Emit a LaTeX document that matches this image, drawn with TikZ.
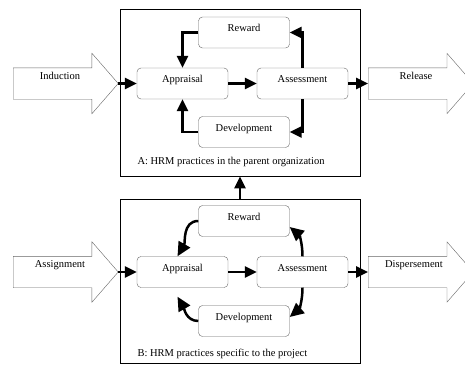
\documentclass[tikz,border=0pt]{standalone}
\usepackage{fontspec}
\setmainfont{Liberation Serif}
\usetikzlibrary{shapes.arrows,arrows.meta}

\begin{document}
\begin{tikzpicture}[x=1pt, y=1pt,
  every node/.style={font=\fontsize{10.5}{12}\selectfont},
  box/.style={draw=black!60, rounded corners=4pt, fill=white, minimum width=91pt, minimum height=31pt, inner sep=0pt, text height=7pt, text depth=9pt},
  frame/.style={draw, line width=0.8pt, minimum width=240pt, inner sep=0pt},
  bigarrow/.style={single arrow, draw=black!60, single arrow head extend=14.5pt, single arrow tip angle=98, minimum height=105pt, inner xsep=0pt, inner ysep=15.5pt, anchor=tail},
  conn/.style={line width=2.5pt, -{Triangle[length=12pt,width=11pt]}},
  bigtip/.style={-{Triangle[length=14pt,width=13pt]}}
]
\useasboundingbox (0,0) rectangle (465,365);
\clip (0,0) rectangle (465,365);

% A: parent organization
\node[frame, minimum height=167pt] (frameA) at (240,272.5) {};
\node[box] (rewA) at (244,332.5) {Reward};
\node[box] (apprA) at (182.5,281.5) {Appraisal};
\node[box] (assA) at (302.5,281.5) {Assessment};
\node[box] (devA) at (244,233) {Development};
\node[anchor=west] (capA) at (134,203) {A: HRM practices in the parent organization};

\node[bigarrow] (induct) at (13,281.5) {};
\node (inductL) at (60,289) {Induction};
\node[bigarrow] (rel) at (368,281.5) {};
\node (relL) at (416,289) {Release};

\draw[conn] (induct.tip) -- (apprA.west);
\draw[conn] (apprA.east) -- (assA.west);
\draw[conn] (assA.east) -- (rel.tail);
\draw[conn] (rewA.west) -| (apprA.north);
\draw[conn] (devA.west) -| (apprA.south);
\draw[conn] (assA.north) |- (rewA.east);
\draw[conn] (assA.south) |- (devA.east);

% B: project
\node[frame, minimum height=164pt] (frameB) at (240,84) {};
\node[box] (rewB) at (244,144) {Reward};
\node[box] (apprB) at (182.5,93) {Appraisal};
\node[box] (assB) at (302.5,93) {Assessment};
\node[box] (devB) at (244,44) {Development};
\node[anchor=west] (capB) at (134,11) {B: HRM practices specific to the project};

\node[bigarrow] (assign) at (13,93) {};
\node (assignL) at (60,100) {Assignment};
\node[bigarrow] (disp) at (368,93) {};
\node (dispL) at (414,100) {Dispersement};

\draw[conn] (assign.tip) -- (apprB.west);
\draw[conn] (apprB.east) -- (assB.west);
\draw[conn] (assB.east) -- (disp.tail);
\draw[conn, bigtip] (rewB.west) to[out=180, in=60] ([xshift=-5pt]apprB.north);
\draw[conn, bigtip] (assB.north) to[out=90, in=-40] ([yshift=-6pt]rewB.east);
\draw[conn, bigtip] (assB.south) to[out=-90, in=40] ([yshift=4pt]devB.east);
\draw[conn, bigtip] (devB.west) to[out=180, in=-60] ([xshift=-5pt,yshift=-9pt]apprB.south);

\draw[conn] (frameB.north) -- (frameA.south);
\end{tikzpicture}
\end{document}
